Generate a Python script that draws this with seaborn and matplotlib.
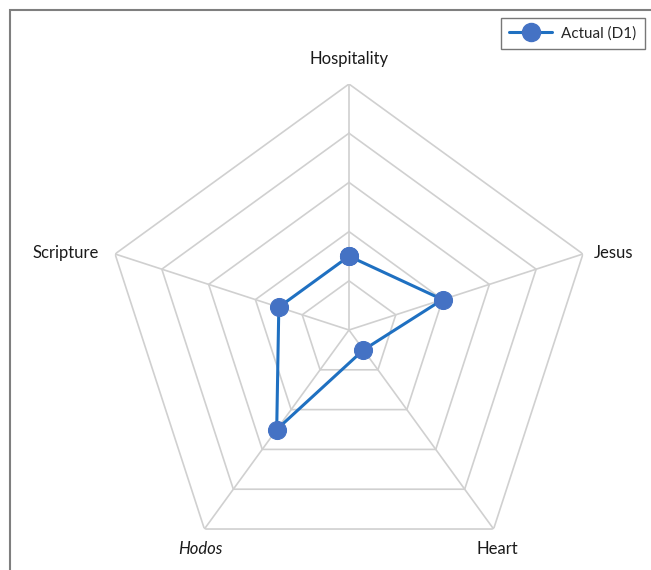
import numpy as np
import pandas as pd
import matplotlib
matplotlib.use("Agg")
from matplotlib import pyplot as plt
from matplotlib.lines import Line2D
from matplotlib.patches import Rectangle
import seaborn as sns

categories = ["Hospitality", "Jesus", "Heart", "Hodos", "Scripture"]
actual_d1 = [1.5, 2.0, 0.5, 2.5, 1.5]
levels = [1, 2, 3, 4, 5]
series_name = "Actual (D1)"

sns.set_style("white")
plt.rcParams['font.family'] = ['Lato', 'DejaVu Sans']

W, H = 651, 570
fig = plt.figure(figsize=(W / 100, H / 100), dpi=100)
cx, cy, R = 349, 330, 246
ax = fig.add_axes([(cx - R) / W, (H - cy - R) / H, 2 * R / W, 2 * R / H],
                  projection='polar')
ax.set_theta_offset(np.pi / 2)
ax.set_theta_direction(-1)
ax.grid(False)
ax.spines['polar'].set_visible(False)
ax.patch.set_alpha(0)

n = len(categories)
theta = np.linspace(0, 2 * np.pi, n, endpoint=False)
theta_closed = np.append(theta, 2 * np.pi)

grid_col = '#d0d0d0'
for lv in levels:
    ax.plot(theta_closed, [lv] * (n + 1), color=grid_col, lw=1.2, zorder=1)
for t in theta:
    ax.plot([t, t], [0, levels[-1]], color=grid_col, lw=1.2, zorder=1)

df = pd.DataFrame({"theta": theta_closed,
                   "value": actual_d1 + actual_d1[:1]})
sns.lineplot(data=df, x="theta", y="value", sort=False, ax=ax,
             color='#1f70c1', lw=2.2, marker='o', markersize=13,
             markerfacecolor='#4472c4', markeredgecolor='#4472c4', zorder=3)
ax.set_xlabel('')
ax.set_ylabel('')
ax.set_xticks([])
ax.set_yticks([])
ax.set_ylim(0, levels[-1])

offsets = [((0, 25), 'center', 'center'),
           ((11, 1), 'left', 'center'),
           ((4, -20), 'center', 'center'),
           ((-4, -20), 'center', 'center'),
           ((-16, 1), 'right', 'center')]
for t, lab, (off, ha, va) in zip(theta, categories, offsets):
    style = 'italic' if lab == "Hodos" else 'normal'
    ax.annotate(lab, xy=(t, levels[-1]), xytext=off, textcoords='offset pixels',
                ha=ha, va=va, fontsize=12, color='#1a1a1a', style=style,
                annotation_clip=False)

handle = Line2D([], [], color='#1f70c1', lw=2.2, marker='o', markersize=13,
                markerfacecolor='#4472c4', markeredgecolor='#4472c4')
leg = fig.legend([handle], [series_name], loc='upper right',
                 bbox_to_anchor=(645 / W, 1 - 18 / H), fontsize=11,
                 frameon=True, fancybox=False, edgecolor='#555555',
                 handlelength=2.8, borderpad=0.55, borderaxespad=0,
                 handletextpad=0.6)
leg.get_frame().set_linewidth(1.0)

fig.add_artist(Rectangle((9.5 / W, -0.1), 1.2, 1.1 - 10.5 / H,
                         transform=fig.transFigure, fill=False,
                         edgecolor='#7f7f7f', lw=1.5))

fig.savefig("out.png", dpi=100)
